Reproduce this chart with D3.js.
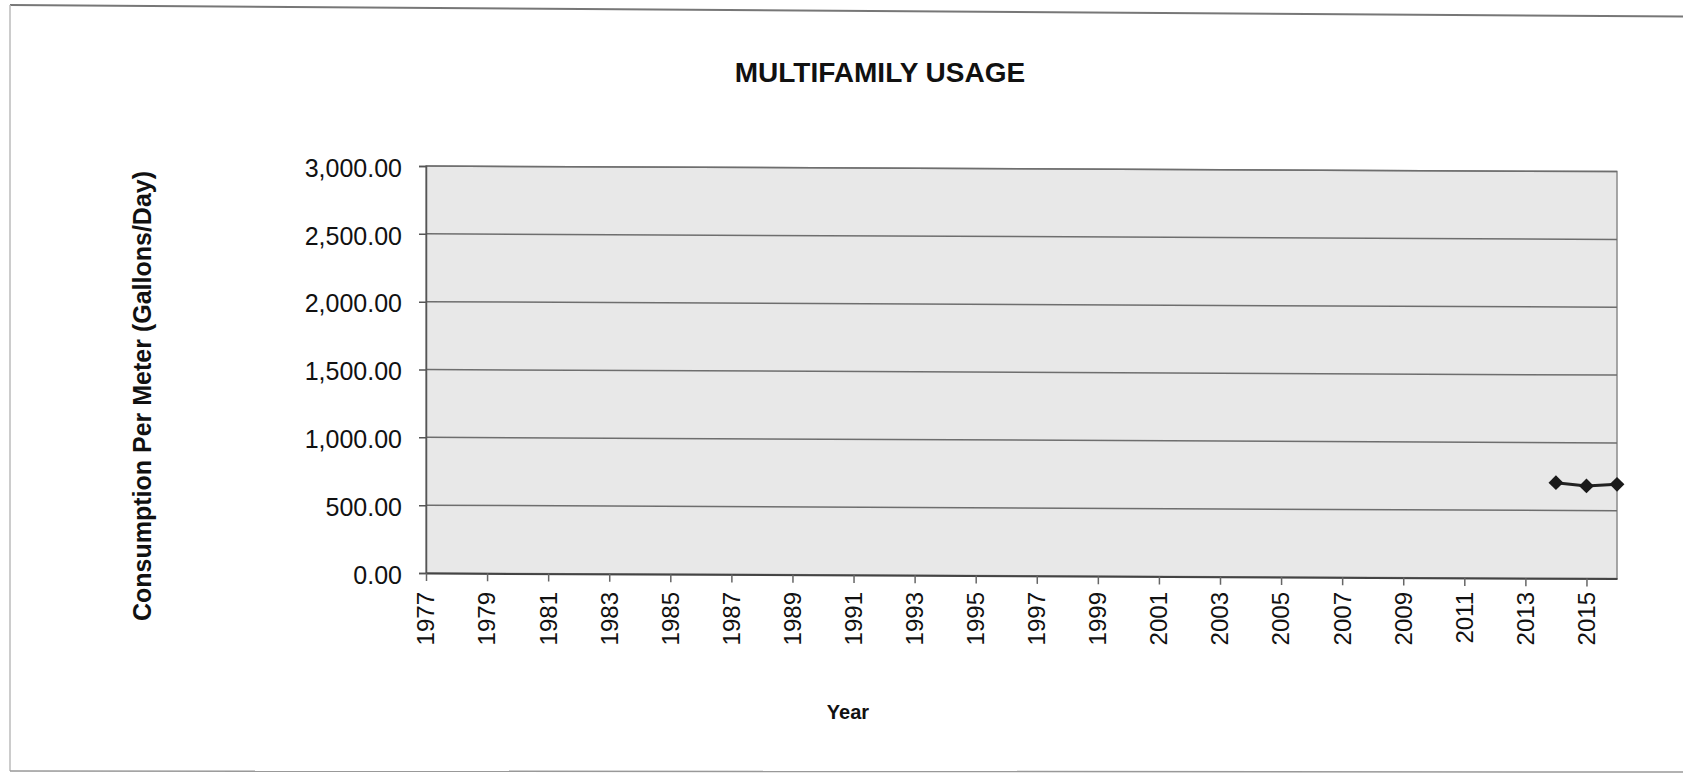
<!DOCTYPE html>
<html>
<head>
<meta charset="utf-8">
<script src="https://cdn.jsdelivr.net/npm/d3@7"></script>
<style>
	html, body { margin: 0; padding: 0; background: #fff; overflow: hidden; }
	svg { display: block; }
	text { font-family: "Liberation Sans", Arial, sans-serif; fill: #111; }
</style>
</head>
<body>
<svg id="chart" width="1683" height="775"></svg>
<script>
// data
const years = d3.range(1977, 2017)
const usage = years.map(y => null)
const knownYears = [2014, 2015, 2016]
const knownUsage = [705, 682, 695]
knownYears.forEach((y, i) => { usage[years.indexOf(y)] = knownUsage[i] })
const yTicks = [0, 500, 1000, 1500, 2000, 2500, 3000]
const xTickYears = years.filter(y => (y - 1977) % 2 == 0)

const svg = d3.select('#chart')
const width = +svg.attr('width')
const height = +svg.attr('height')

const margin = {top: 166, right: 66, bottom: 202, left: 426}
const innerWidth = width - margin.left - margin.right
const innerHeight = height - margin.top - margin.bottom

// outer frame of the scanned page
svg.append('line')
	.attr('x1', 10).attr('y1', 5).attr('x2', 1683).attr('y2', 16.5)
	.style('stroke', '#777').style('stroke-width', 2)
svg.append('line')
	.attr('x1', 10).attr('y1', 5).attr('x2', 10).attr('y2', 771)
	.style('stroke', '#bbb').style('stroke-width', 1.5)
svg.append('line')
	.attr('x1', 10).attr('y1', 771).attr('x2', 1683).attr('y2', 772)
	.style('stroke', '#999').style('stroke-width', 1.5)

// the scan is slightly sheared; only the plot marks follow it
const k = 0.0047
const page = svg.append('g')
	.attr('transform', `matrix(1,${k},0,1,0,${-k * margin.left})`)

svg.append('text')
	.text('MULTIFAMILY USAGE')
	.attr('x', 880)
	.attr('y', 82)
	.attr('text-anchor', 'middle')
	.style('font-size', '28px')
	.style('font-weight', 'bold')

const g = page.append('g')
	.attr('transform', `translate(${margin.left}, ${margin.top})`)

// labels stay unsheared, shifted down a bit to sit with the sheared axis
const labels = svg.append('g')
	.attr('transform', `translate(${margin.left}, ${margin.top + 2})`)

const xScale = d3.scalePoint()
	.domain(years)
	.range([0, innerWidth])

const yScale = d3.scaleLinear()
	.domain([0, 3000])
	.range([innerHeight, 0])

g.append('rect')
	.attr('width', innerWidth)
	.attr('height', innerHeight)
	.style('fill', '#e8e8e8')
	.style('stroke', '#8a8a8a')
	.style('stroke-width', 1.5)

g.append('g').selectAll('line')
	.data(yTicks.slice(1))
	.enter().append('line')
	.attr('x1', 0)
	.attr('x2', innerWidth)
	.attr('y1', d => yScale(d))
	.attr('y2', d => yScale(d))
	.style('stroke', '#6e6e6e')
	.style('stroke-width', 1.5)

const yAxis = d3.axisLeft(yScale)
	.tickValues(yTicks)
	.tickFormat('')
	.tickSize(7)

const yAxisData = g.append('g').call(yAxis)
yAxisData.select('.domain').style('stroke', '#555').style('stroke-width', 1.5)
yAxisData.selectAll('line').style('stroke', '#555').style('stroke-width', 1.5)

labels.append('g').selectAll('text')
	.data(yTicks)
	.enter().append('text')
	.text(d3.format(',.2f'))
	.attr('x', -24)
	.attr('y', d => yScale(d))
	.attr('dy', '0.35em')
	.attr('text-anchor', 'end')
	.style('font-size', '25px')

const xAxis = d3.axisBottom(xScale)
	.tickValues(xTickYears)
	.tickSize(8)
	.tickSizeOuter(0)
	.tickFormat('')

const xAxisData = g.append('g').call(xAxis)
	.attr('transform', `translate(0, ${innerHeight})`)
xAxisData.select('.domain').style('stroke', '#444').style('stroke-width', 2)
xAxisData.selectAll('line').style('stroke', '#666').style('stroke-width', 1.5)

labels.append('g').selectAll('text')
	.data(xTickYears)
	.enter().append('text')
	.text(d => d)
	.attr('transform', d => `translate(${xScale(d)}, ${innerHeight + 17}) rotate(-90)`)
	.attr('dy', '0.35em')
	.attr('text-anchor', 'end')
	.style('font-size', '24px')

const points = years.map((y, i) => ({year: y, value: usage[i]}))
	.filter(d => d.value != null)

g.append('path')
	.datum(points)
	.attr('d', d3.line().x(d => xScale(d.year)).y(d => yScale(d.value)))
	.style('fill', 'none')
	.style('stroke', '#222')
	.style('stroke-width', 3)

g.append('g').selectAll('path')
	.data(points)
	.enter().append('path')
	.attr('d', d3.symbol(d3.symbolSquare, 110))
	.attr('transform', d => `translate(${xScale(d.year)}, ${yScale(d.value)}) rotate(45)`)
	.style('fill', '#1a1a1a')

svg.append('text')
	.text('Consumption Per Meter (Gallons/Day)')
	.attr('transform', 'translate(151, 396) rotate(-90)')
	.attr('text-anchor', 'middle')
	.style('font-size', '25px')
	.style('font-weight', 'bold')

svg.append('text')
	.text('Year')
	.attr('x', 848)
	.attr('y', 719)
	.attr('text-anchor', 'middle')
	.style('font-size', '20px')
	.style('font-weight', 'bold')
</script>
</body>
</html>
